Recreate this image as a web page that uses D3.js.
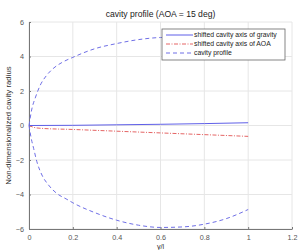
<!DOCTYPE html>
<html>
<head>
<meta charset="utf-8">
<script src="https://cdn.jsdelivr.net/npm/d3@7"></script>
<style>
  body { margin: 0; background: #fff; }
  text { font-family: "Liberation Sans", Arial, sans-serif; }
</style>
</head>
<body>
<script>
"use strict";

// values
const xTicks = [0, 0.2, 0.4, 0.6, 0.8, 1, 1.2];
const yTicks = [-6, -4, -2, 0, 2, 4, 6];

const upperX = [0, 0.012, 0.03, 0.05, 0.08, 0.11, 0.15, 0.2, 0.3, 0.4, 0.5, 0.6, 0.7, 0.8, 0.9, 1.0];
const upperY = [0, 0.9, 1.65, 2.3, 2.9, 3.3, 3.65, 3.95, 4.45, 4.75, 4.98, 5.1, 5.12, 5.0, 4.7, 4.2];

const lowerX = [0, 0.01, 0.021, 0.036, 0.059, 0.089, 0.127, 0.173, 0.2, 0.3, 0.4, 0.5, 0.6, 0.7, 0.8, 0.9, 1.0];
const lowerY = [0, -0.74, -1.32, -2.1, -2.87, -3.45, -3.94, -4.28, -4.48, -5.05, -5.49, -5.78, -5.91, -5.88, -5.72, -5.4, -4.87];

const gravX = [0, 0.2, 0.4, 0.6, 0.8, 1.0];
const gravY = [0, 0.01, 0.04, 0.07, 0.11, 0.16];

const aoaX = [0, 0.02, 0.05, 0.2, 0.4, 0.6, 0.8, 1.0];
const aoaY = [0, -0.1, -0.16, -0.23, -0.33, -0.43, -0.53, -0.63];

const legendNames = ["shifted cavity axis of gravity", "shifted cavity axis of AOA", "cavity profile"];

const width = 300, height = 250;
const margin = { left: 29, right: 8, top: 22, bottom: 21 };

let svg = d3
  .select("body")
  .append("svg")
  .attr("width", width)
  .attr("height", height);

const x = d3.scaleLinear().domain([0, 1.2]).range([margin.left, width - margin.right]);
const y = d3.scaleLinear().domain([-6, 6]).range([height - margin.bottom, margin.top]);

// grid
svg.append("g")
  .selectAll("line")
  .data(xTicks)
  .enter()
  .append("line")
  .attr("x1", d => x(d)).attr("x2", d => x(d))
  .attr("y1", y(-6)).attr("y2", y(6))
  .attr("stroke", "#e6e6e6")
  .attr("stroke-width", 1);

svg.append("g")
  .selectAll("line")
  .data(yTicks)
  .enter()
  .append("line")
  .attr("x1", x(0)).attr("x2", x(1.2))
  .attr("y1", d => y(d)).attr("y2", d => y(d))
  .attr("stroke", "#e6e6e6")
  .attr("stroke-width", 1);

// axes
const xAxis = svg.append("g")
  .attr("transform", `translate(0,${y(-6)})`)
  .call(d3.axisBottom(x).tickValues(xTicks).tickSizeInner(-2).tickSizeOuter(0).tickPadding(6)
    .tickFormat(d => d3.format("~g")(d)));

const yAxis = svg.append("g")
  .attr("transform", `translate(${x(0)},0)`)
  .call(d3.axisLeft(y).tickValues(yTicks).tickSizeInner(-2).tickSizeOuter(0).tickPadding(5));

[xAxis, yAxis].forEach(a => {
  a.select(".domain").attr("stroke", "#777");
  a.selectAll(".tick line").attr("stroke", "#777");
  a.selectAll("text")
    .attr("fill", "#555")
    .style("font-size", "7.2px")
    .style("font-family", "Liberation Sans, Arial, sans-serif");
});

// lines
const line = d3.line()
  .x(d => x(d[0]))
  .y(d => y(d[1]))
  .curve(d3.curveMonotoneX);

const zip = (a, b) => a.map((v, i) => [v, b[i]]);

svg.append("path")
  .datum(zip(upperX, upperY))
  .attr("d", line)
  .attr("fill", "none")
  .attr("stroke", "#6f6fe6")
  .attr("stroke-width", 1)
  .attr("stroke-dasharray", "4,3");

svg.append("path")
  .datum(zip(lowerX, lowerY))
  .attr("d", line)
  .attr("fill", "none")
  .attr("stroke", "#6f6fe6")
  .attr("stroke-width", 1)
  .attr("stroke-dasharray", "4,3");

svg.append("path")
  .datum(zip(aoaX, aoaY))
  .attr("d", line)
  .attr("fill", "none")
  .attr("stroke", "#e56565")
  .attr("stroke-width", 1)
  .attr("stroke-dasharray", "4,1.5,1,1.5");

svg.append("path")
  .datum(zip(gravX, gravY))
  .attr("d", line)
  .attr("fill", "none")
  .attr("stroke", "#5f5fe8")
  .attr("stroke-width", 1);

// title and labels
svg.append("text")
  .attr("x", x(0.6))
  .attr("y", 17)
  .attr("text-anchor", "middle")
  .attr("fill", "#222")
  .style("font-size", "8.6px")
  .text("cavity profile (AOA = 15 deg)");

svg.append("text")
  .attr("x", x(0.6))
  .attr("y", 249)
  .attr("text-anchor", "middle")
  .attr("fill", "#333")
  .style("font-size", "7.2px")
  .text("y/l");

svg.append("text")
  .attr("transform", `translate(11,${y(0)}) rotate(-90)`)
  .attr("text-anchor", "middle")
  .attr("fill", "#333")
  .style("font-size", "7.8px")
  .text("Non-dimensionalized cavity radius");

// legend
const legend = svg.append("g").attr("transform", "translate(162,29)");

legend.append("rect")
  .attr("width", 123)
  .attr("height", 31)
  .attr("fill", "#fff")
  .attr("stroke", "#666")
  .attr("stroke-width", 0.8);

const styles = [
  { stroke: "#5f5fe8", dash: null },
  { stroke: "#e56565", dash: "4,1.5,1,1.5" },
  { stroke: "#6f6fe6", dash: "4,3" }
];

legendNames.forEach((name, i) => {
  const ly = 6 + i * 9;
  legend.append("line")
    .attr("x1", 4).attr("x2", 31)
    .attr("y1", ly).attr("y2", ly)
    .attr("stroke", styles[i].stroke)
    .attr("stroke-width", 1)
    .attr("stroke-dasharray", styles[i].dash);
  legend.append("text")
    .attr("x", 32)
    .attr("y", ly + 2.3)
    .attr("fill", "#222")
    .style("font-size", "6.8px")
    .text(name);
});
</script>
</body>
</html>
